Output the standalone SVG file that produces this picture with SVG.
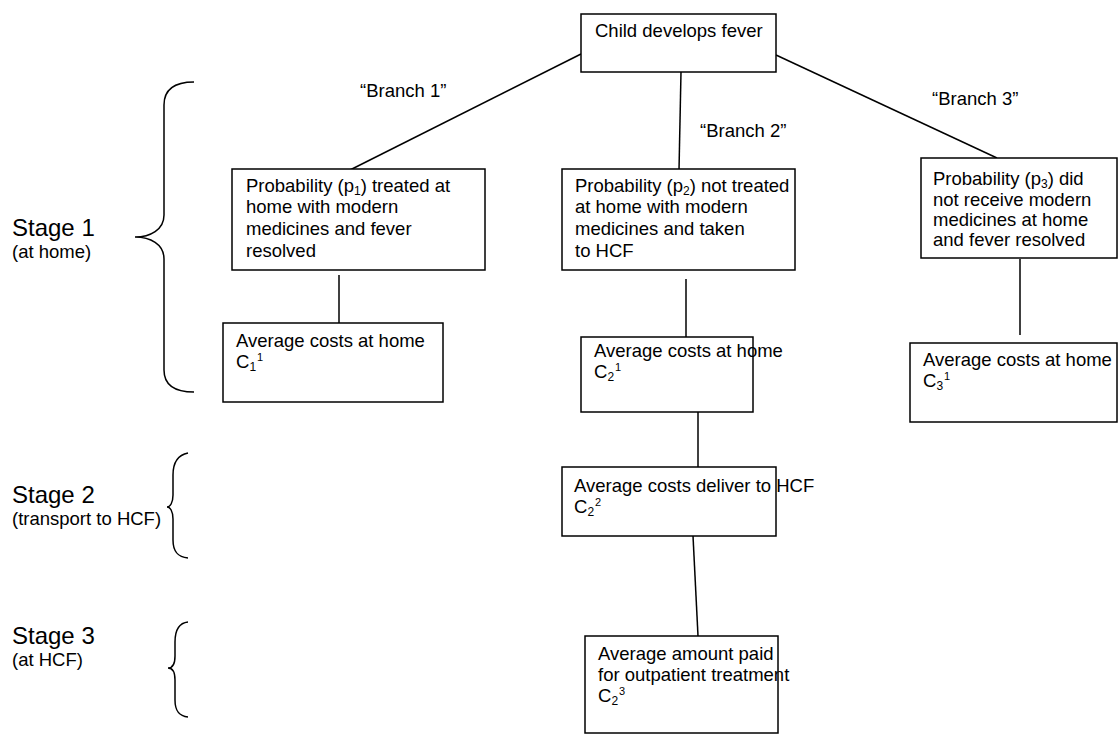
<svg xmlns="http://www.w3.org/2000/svg" width="1119" height="734" viewBox="0 0 1119 734">
<style>
text{font-family:"Liberation Sans",Arial,sans-serif;font-size:18.5px;fill:#000}
.stage{font-size:24px}
.s{font-size:12px}
.u{font-size:11px}
rect{fill:#fff;stroke:#000;stroke-width:1.5}
.c line,.c path{stroke:#000;stroke-width:1.5;fill:none}
</style>
<rect x="0" y="0" width="1119" height="734" style="fill:#fff;stroke:none"/>
<g id="connectors" class="c">
<line x1="581" y1="54" x2="350" y2="170"/>
<line x1="681" y1="72" x2="679" y2="170"/>
<line x1="776" y1="55" x2="997" y2="158"/>
<line x1="339" y1="275" x2="339" y2="323"/>
<line x1="686" y1="279" x2="686" y2="337"/>
<line x1="1020" y1="259" x2="1020" y2="335"/>
<line x1="698" y1="412" x2="698" y2="467"/>
<line x1="693" y1="536" x2="698" y2="636"/>
</g>
<g id="braces" class="c">
<path d="M194,82 C176,82 164,88 164,105 L164,215 C164,230 150,237 135,237 C150,237 164,244 164,259 L164,370 C164,386 176,392 194,392"/>
<path d="M188,453 C178,455 173,462 173,475 L173,495 C173,503 170,507 167,507 C170,507 173,511 173,519 L173,540 C173,552 178,557 188,558"/>
<path d="M188,622 C179,623 175,630 175,642 L175,656 C175,664 172,668 168,668 C172,668 175,672 175,680 L175,700 C175,711 179,716 188,717"/>
</g>
<g id="stage-labels">
<text class="stage" x="12" y="236">Stage 1</text>
<text x="12" y="258">(at home)</text>
<text class="stage" x="12" y="503">Stage 2</text>
<text x="12" y="525">(transport to HCF)</text>
<text class="stage" x="12" y="644">Stage 3</text>
<text x="12" y="666">(at HCF)</text>
</g>
<g id="branch-labels">
<text x="360" y="97">“Branch 1”</text>
<text x="700" y="137">“Branch 2”</text>
<text x="932" y="105">“Branch 3”</text>
</g>
<g id="root">
<rect x="581" y="14" width="195" height="58"/>
<text x="595" y="37">Child develops fever</text>
</g>
<g id="p1">
<rect x="232" y="169" width="253" height="101"/>
<text x="246" y="192">Probability (p<tspan class="s" dy="3">1</tspan><tspan dy="-3">) treated at</tspan></text>
<text x="246" y="213">home with modern</text>
<text x="246" y="235">medicines and fever</text>
<text x="246" y="257">resolved</text>
</g>
<g id="p2">
<rect x="562" y="169" width="233" height="101"/>
<text x="575" y="192">Probability (p<tspan class="s" dy="3">2</tspan><tspan dy="-3">) not treated</tspan></text>
<text x="575" y="213">at home with modern</text>
<text x="575" y="235">medicines and taken</text>
<text x="575" y="257">to HCF</text>
</g>
<g id="p3">
<rect x="921" y="158" width="196" height="100"/>
<text x="933" y="185">Probability (p<tspan class="s" dy="3">3</tspan><tspan dy="-3">) did</tspan></text>
<text x="933" y="206">not receive modern</text>
<text x="933" y="226">medicines at home</text>
<text x="933" y="246">and fever resolved</text>
</g>
<g id="c11">
<rect x="223" y="323" width="220" height="79"/>
<text x="236" y="347">Average costs at home</text>
<text x="236" y="368">C<tspan class="s" dy="3">1</tspan><tspan class="u" dy="-10" dx="1">1</tspan></text>
</g>
<g id="c21">
<rect x="581" y="337" width="172" height="75"/>
<text x="594" y="357">Average costs at home</text>
<text x="594" y="378">C<tspan class="s" dy="3">2</tspan><tspan class="u" dy="-10" dx="1">1</tspan></text>
</g>
<g id="c31">
<rect x="910" y="343" width="207" height="79"/>
<text x="923" y="366">Average costs at home</text>
<text x="923" y="387">C<tspan class="s" dy="3">3</tspan><tspan class="u" dy="-10" dx="1">1</tspan></text>
</g>
<g id="c22">
<rect x="562" y="467" width="214" height="69"/>
<text x="574" y="492">Average costs deliver to HCF</text>
<text x="574" y="513">C<tspan class="s" dy="3">2</tspan><tspan class="u" dy="-10" dx="1">2</tspan></text>
</g>
<g id="c23">
<rect x="585" y="636" width="193" height="97"/>
<text x="598" y="660">Average amount paid</text>
<text x="598" y="681">for outpatient treatment</text>
<text x="598" y="702">C<tspan class="s" dy="3">2</tspan><tspan class="u" dy="-10" dx="1">3</tspan></text>
</g>
</svg>
